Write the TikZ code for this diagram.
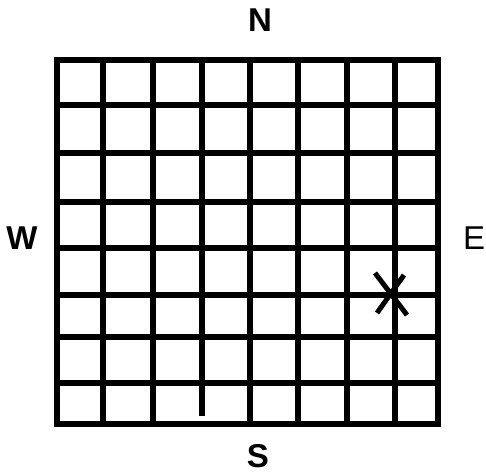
\documentclass[tikz,border=0pt]{standalone}
\usepackage{fontspec}
\setmainfont{Liberation Sans}
\begin{document}
\begin{tikzpicture}[x=1pt,y=-1pt,
  gridline/.style={line width=5.5pt},
  border/.style={line width=6.5pt, line join=miter},
  star/.style={line width=5pt},
  lbl/.style={font=\fontsize{33}{33}\selectfont, inner sep=0pt}]
\useasboundingbox (0,0) rectangle (486,473);
% vertical inner lines
\foreach \x in {103,153,202,250,298,347,395} {
  \draw[gridline] (\x,60) -- (\x,423);
}
% horizontal inner lines
\foreach \y in {105,153,202,248,295,337,383} {
  \draw[gridline] (57,\y) -- (438,\y);
}
% gap in the bottom row at x=202
\fill[white] (197,416) rectangle (207,421);
\draw[border] (57,60) rectangle (438,424);
% asterisk mark
\coordinate (c) at (391,294);
\draw[star] (375,273) -- (407,315);
\draw[star] (404,275) -- (377,313);
% labels
\node[lbl, font=\fontsize{33}{33}\selectfont\bfseries] (n) at (260,20) {N};
\node[lbl, font=\fontsize{33}{33}\selectfont\bfseries] (w) at (22,238) {W};
\node[lbl] (e) at (474,238) {E};
\node[lbl, font=\fontsize{33}{33}\selectfont\bfseries] (s) at (258,456) {S};
\end{tikzpicture}
\end{document}
